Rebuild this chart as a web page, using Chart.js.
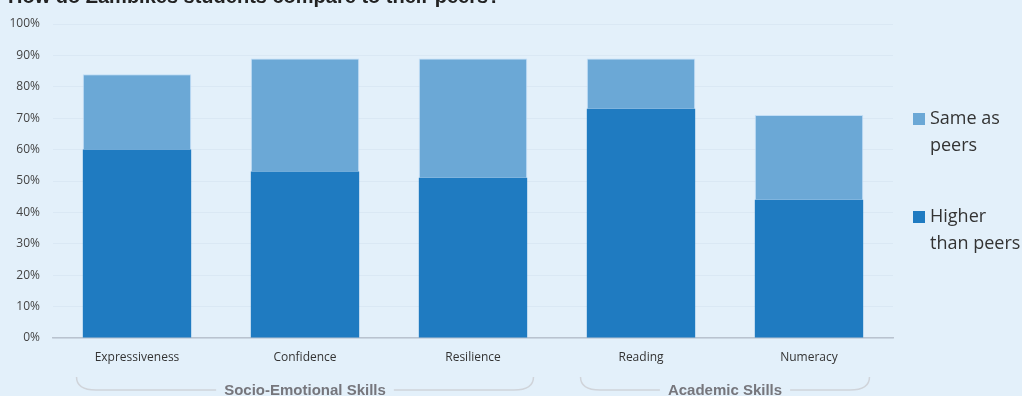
<!DOCTYPE html>
<html>
<head>
<meta charset="utf-8">
<script src="https://cdn.jsdelivr.net/npm/chart.js@4/dist/chart.umd.min.js"></script>
<style>
    html, body { margin: 0; padding: 0; background: #e3f0fa; }
    #wrap { position: relative; width: 1022px; height: 396px; }
</style>
</head>
<body>
<div id="wrap"><canvas id="skillsChart" width="1022" height="396"></canvas></div>
<script>
// Chart data
const categories = ['Expressiveness', 'Confidence', 'Resilience', 'Reading', 'Numeracy'];
const higherThanPeers = [60, 53, 51, 73, 44];
const sameAsPeers = [24, 36, 38, 16, 27];
const seriesNames = ['Higher than peers', 'Same as peers'];
const groups = [
    { label: 'Socio-Emotional Skills', from: 0, to: 2 },
    { label: 'Academic Skills', from: 3, to: 4 }
];
const chartTitle = 'How do Zambikes students compare to their peers?';

const darkBlue = '#1f7bc1';
const lightBlue = '#6ba8d6';

// Draws the cut-off title, the group brackets and the two-line legend
const decorations = {
    id: 'decorations',
    afterDraw(chart) {
        const ctx = chart.ctx;
        const x = chart.scales.x;
        ctx.save();

        // title (partly above the canvas edge)
        ctx.fillStyle = '#222';
        ctx.font = 'bold 20px "Liberation Sans", Arial, sans-serif';
        ctx.textBaseline = 'alphabetic';
        ctx.textAlign = 'left';
        ctx.fillText(chartTitle, 8, 3);

        // group brackets
        const half = x.getPixelForValue(1) - x.getPixelForValue(0);
        groups.forEach(g => {
            const left = x.getPixelForValue(g.from) - half * 0.36;
            const right = x.getPixelForValue(g.to) + half * 0.36;
            const mid = (left + right) / 2;
            const top = 377, bottom = 390, r = 13;
            ctx.font = 'bold 15px "Liberation Sans", Arial, sans-serif';
            const tw = ctx.measureText(g.label).width;
            ctx.strokeStyle = '#d0d4da';
            ctx.lineWidth = 1.5;
            ctx.beginPath();
            ctx.moveTo(left, top);
            ctx.quadraticCurveTo(left, bottom, left + r * 1.5, bottom);
            ctx.lineTo(mid - tw / 2 - 8, bottom);
            ctx.moveTo(mid + tw / 2 + 8, bottom);
            ctx.lineTo(right - r * 1.5, bottom);
            ctx.quadraticCurveTo(right, bottom, right, top);
            ctx.stroke();
            ctx.fillStyle = '#76767c';
            ctx.textAlign = 'center';
            ctx.textBaseline = 'middle';
            ctx.fillText(g.label, mid, bottom + 1);
        });

        // legend
        const legendItems = [
            { color: lightBlue, lines: ['Same as', 'peers'], y: 119 },
            { color: darkBlue, lines: ['Higher', 'than peers'], y: 217 }
        ];
        ctx.font = '18px "Open Sans", "Liberation Sans", sans-serif';
        ctx.textAlign = 'left';
        ctx.textBaseline = 'middle';
        legendItems.forEach(item => {
            ctx.fillStyle = item.color;
            ctx.fillRect(913, item.y - 6, 12, 12);
            ctx.fillStyle = '#333';
            item.lines.forEach((line, i) => {
                ctx.fillText(line, 930, item.y + i * 27);
            });
        });

        ctx.restore();
    }
};

const ctx = document.getElementById('skillsChart').getContext('2d');
new Chart(ctx, {
    type: 'bar',
    data: {
        labels: categories,
        datasets: [
            {
                label: seriesNames[0],
                data: higherThanPeers,
                backgroundColor: darkBlue,
                borderWidth: 0,
                categoryPercentage: 1,
                barPercentage: 0.645
            },
            {
                label: seriesNames[1],
                data: sameAsPeers,
                backgroundColor: lightBlue,
                borderColor: 'rgba(190, 220, 245, 0.9)',
                borderWidth: { top: 1, left: 1, right: 1, bottom: 0 },
                borderSkipped: false,
                categoryPercentage: 1,
                barPercentage: 0.645
            }
        ]
    },
    options: {
        responsive: false,
        animation: false,
        layout: {
            padding: { top: 24, right: 129, bottom: 0, left: 0 }
        },
        plugins: {
            legend: { display: false },
            tooltip: { enabled: false }
        },
        scales: {
            x: {
                stacked: true,
                grid: { display: false, drawTicks: false },
                border: { color: '#b9c3cf', width: 1.5 },
                ticks: {
                    color: '#333',
                    font: { family: '"Open Sans", "Liberation Sans", sans-serif', size: 12 },
                    padding: 12,
                    maxRotation: 0
                },
                afterFit: function(scale) { scale.height = 58; }
            },
            y: {
                stacked: true,
                min: 0,
                max: 100,
                grid: { color: '#dae8f4', drawTicks: false },
                border: { display: false },
                ticks: {
                    stepSize: 10,
                    color: '#444',
                    padding: 13,
                    font: { family: '"Open Sans", "Liberation Sans", sans-serif', size: 12 },
                    callback: function(value) {
                        return value + '%';
                    }
                },
                afterFit: function(scale) { scale.width = 53; }
            }
        }
    },
    plugins: [decorations]
});
</script>
</body>
</html>
